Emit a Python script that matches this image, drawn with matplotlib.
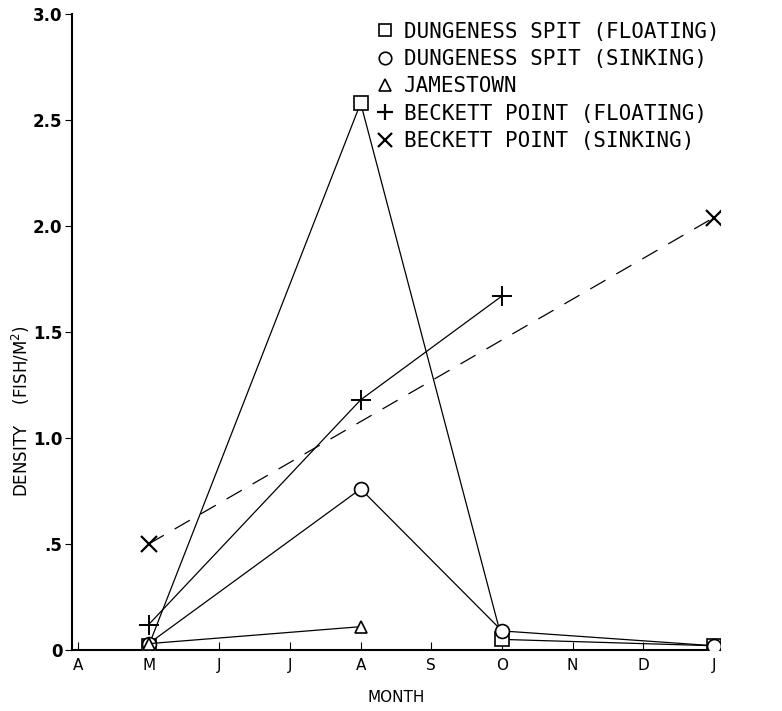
import matplotlib.pyplot as plt
from matplotlib.lines import Line2D

# month index: 0=A(pr) ... 9=J(an)
month_labels = ["A", "M", "J", "J", "A", "S", "O", "N", "D", "J"]

dung_float_x = [1, 4, 6, 9]
dung_float_y = [0.02, 2.58, 0.05, 0.02]

dung_sink_x = [1, 4, 6, 9]
dung_sink_y = [0.03, 0.76, 0.09, 0.02]

james_x = [1, 4]
james_y = [0.03, 0.11]

beck_float_x = [1, 4, 6]
beck_float_y = [0.12, 1.18, 1.67]

beck_sink_x = [1, 9]
beck_sink_y = [0.50, 2.04]

yticks = [0, 0.5, 1.0, 1.5, 2.0, 2.5, 3.0]
ytick_labels = ["0", ".5", "1.0", "1.5", "2.0", "2.5", "3.0"]

fig = plt.figure(figsize=(7.82, 7.11), dpi=100)
ax = fig.add_axes([72 / 782, 61 / 711, 648 / 782, 636 / 711])

lw = 0.9
ax.plot(dung_float_x, dung_float_y, color="black", lw=lw, marker="s",
        mfc="white", mec="black", ms=10, mew=1.2, zorder=3)
ax.plot(dung_sink_x, dung_sink_y, color="black", lw=lw, marker="o",
        mfc="white", mec="black", ms=10, mew=1.2, zorder=3)
ax.plot(james_x, james_y, color="black", lw=lw, marker="^",
        mfc="white", mec="black", ms=8, mew=1.2, zorder=3)
ax.plot(beck_float_x, beck_float_y, color="black", lw=lw, marker="+",
        ms=14, mew=1.4, zorder=3)
ax.plot(beck_sink_x, beck_sink_y, color="black", lw=lw, ls=(0, (14, 10)),
        marker="x", ms=12, mew=1.6, zorder=3)

ax.set_xlim(-0.085, 9.085)
ax.set_ylim(0, 3.0)
ax.set_xticks(range(len(month_labels)))
ax.set_xticklabels(month_labels, fontsize=11)
ax.set_yticks(yticks)
ax.set_yticklabels(ytick_labels, fontsize=12, fontweight="bold")
ax.tick_params(axis="x", direction="in", length=6, pad=6)
ax.tick_params(axis="y", direction="out", length=5, pad=2)
for s in ["top", "right"]:
    ax.spines[s].set_visible(False)
ax.spines["left"].set_linewidth(1.5)
ax.spines["bottom"].set_linewidth(1.5)

ax.set_xlabel("MONTH", fontsize=11, labelpad=12)
ax.set_ylabel("DENSITY    (FISH/M$^2$)", fontsize=12)
ax.yaxis.set_label_coords(-0.061, 0.375)

handles = [
    Line2D([], [], ls="none", marker="s", mfc="white", mec="black", ms=9, mew=1.2),
    Line2D([], [], ls="none", marker="o", mfc="white", mec="black", ms=9, mew=1.2),
    Line2D([], [], ls="none", marker="^", mfc="white", mec="black", ms=8, mew=1.2),
    Line2D([], [], ls="none", marker="+", color="black", ms=12, mew=1.6),
    Line2D([], [], ls="none", marker="x", color="black", ms=10, mew=1.6),
]
labels = [
    "DUNGENESS SPIT (FLOATING)",
    "DUNGENESS SPIT (SINKING)",
    "JAMESTOWN",
    "BECKETT POINT (FLOATING)",
    "BECKETT POINT (SINKING)",
]
fig.legend(handles, labels, loc="upper left", bbox_to_anchor=(356 / 782, 1 - 3 / 711),
           frameon=False, handlelength=1.0, handletextpad=0.4, labelspacing=0.35,
           prop={"family": "DejaVu Sans Mono", "size": 15})

fig.savefig("out.png", dpi=100)
